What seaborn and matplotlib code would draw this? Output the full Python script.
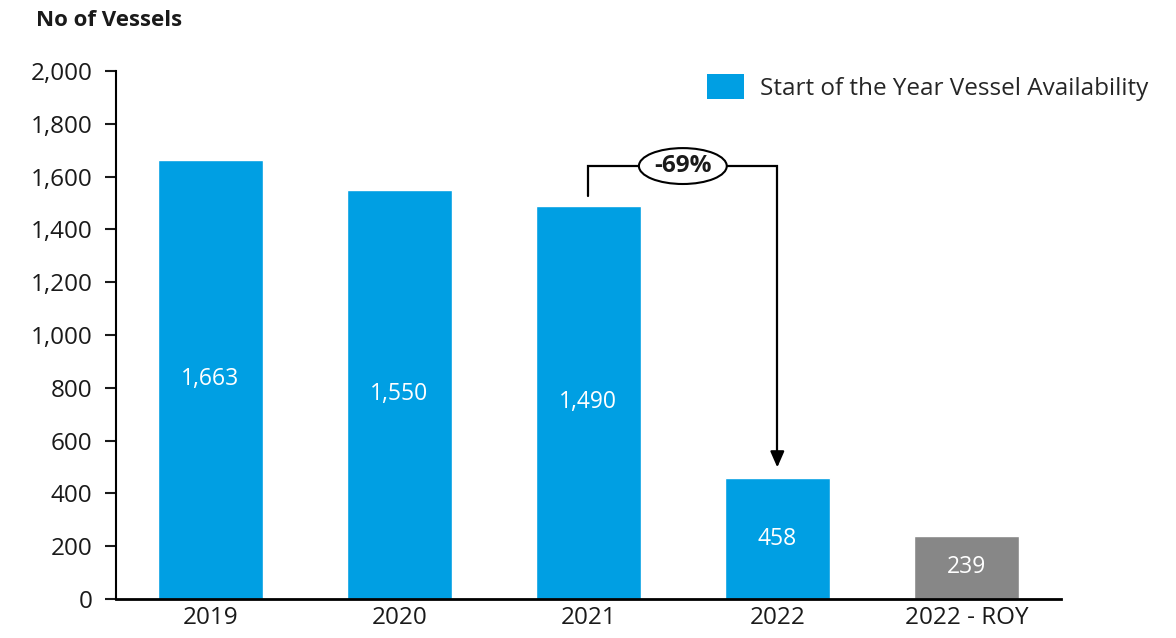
import matplotlib
matplotlib.use("Agg")
import matplotlib.pyplot as plt
import seaborn as sns
import pandas as pd
from matplotlib.patches import Ellipse, Patch

categories = ["2019", "2020", "2021", "2022", "2022 - ROY"]
values = [1663, 1550, 1490, 458, 239]
bar_colors = ["#009FE3", "#009FE3", "#009FE3", "#009FE3", "#878787"]
value_labels = ["1,663", "1,550", "1,490", "458", "239"]
yticks = [0, 200, 400, 600, 800, 1000, 1200, 1400, 1600, 1800, 2000]
ytick_labels = ["0", "200", "400", "600", "800", "1,000", "1,200", "1,400", "1,600", "1,800", "2,000"]
legend_label = "Start of the Year Vessel Availability"
y_title = "No of Vessels"
change_label = "-69%"

sns.set_theme(style="white")
plt.rcParams["font.family"] = ["Open Sans", "DejaVu Sans"]

FS = 17.5

fig = plt.figure(figsize=(11.76, 6.38), dpi=100)
ax = fig.add_axes([0.0986, 0.0611, 0.8034, 0.8276])

df = pd.DataFrame({"cat": categories, "val": values})
sns.barplot(data=df, x="cat", y="val", hue="cat", palette=bar_colors,
            width=0.555, legend=False, ax=ax, saturation=1)

ax.set_xlim(-0.5, 4.5)
ax.set_ylim(0, 2000)
ax.set_yticks(yticks)
ax.set_yticklabels(ytick_labels)
ax.set_xlabel("")
ax.set_ylabel("")
ax.tick_params(axis="both", labelsize=FS, colors="#1a1a1a")
ax.tick_params(axis="y", length=8, width=1.5, direction="out", left=True, pad=9)
ax.tick_params(axis="x", length=0, pad=5)
for s in ["top", "right"]:
    ax.spines[s].set_visible(False)
ax.spines["left"].set_linewidth(1.5)
ax.spines["left"].set_color("black")
ax.spines["bottom"].set_linewidth(2)
ax.spines["bottom"].set_color("black")

# value labels inside bars
for i, (v, lab) in enumerate(zip(values, value_labels)):
    ax.text(i, v / 2, lab, ha="center", va="center", color="white", fontsize=16.5)

# legend
handles = [Patch(facecolor=bar_colors[0], edgecolor="none")]
leg = ax.legend(handles, [legend_label], loc="upper right", bbox_to_anchor=(1.116, 1.035),
                frameon=False, fontsize=FS, handlelength=1.55, handleheight=1.2,
                handletextpad=0.65)

# title
fig.text(0.031, 0.968, y_title, fontsize=16, fontweight="bold", ha="left", va="center",
         color="#1a1a1a")

# change annotation between 2021 and 2022
i0, i1 = 2, 3
y_start = values[i0] + 35
y_top = 1640
y_end = values[i1] + 30
ax.plot([i0, i0, i1, i1], [y_start, y_top, y_top, y_end + 60], color="black", lw=1.6,
        solid_joinstyle="miter", zorder=3)
ax.annotate("", xy=(i1, y_end), xytext=(i1, y_end + 70),
            arrowprops=dict(arrowstyle="-|>,head_length=0.8,head_width=0.35", color="black", lw=1.6),
            zorder=4)
xm = (i0 + i1) / 2
ell = Ellipse((xm, y_top), width=0.465, height=136, facecolor="white", edgecolor="black",
              lw=1.5, zorder=5)
ax.add_patch(ell)
ax.text(xm, y_top, change_label, ha="center", va="center", fontsize=17.5, fontweight="bold",
        zorder=6, color="#1a1a1a")

fig.savefig("out.png", dpi=100)
